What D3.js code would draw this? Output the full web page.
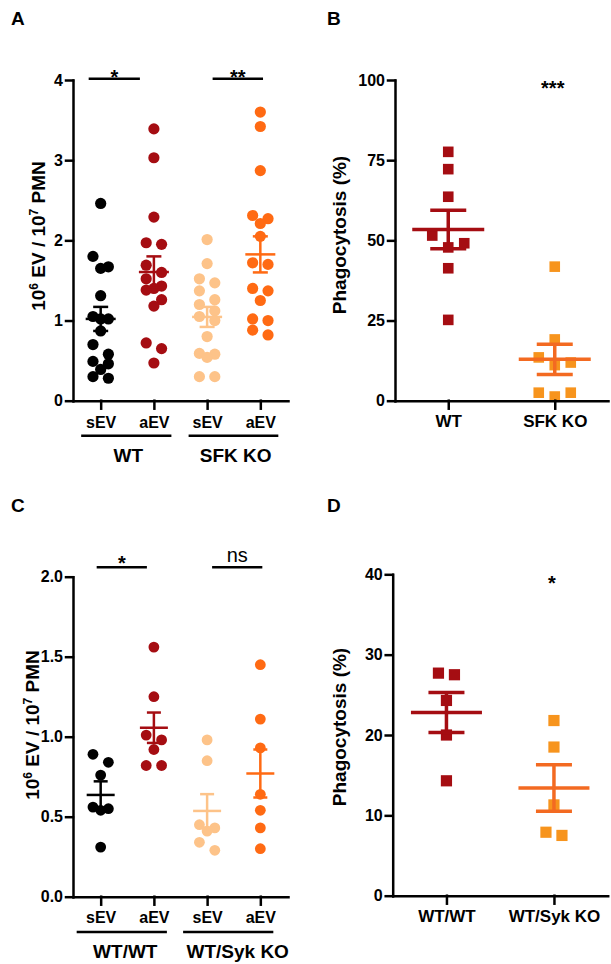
<!DOCTYPE html>
<html><head><meta charset="utf-8">
<script src="https://cdn.jsdelivr.net/npm/d3@7"></script>
<style>
body{margin:0;background:#fff}
svg text{font-family:"Liberation Sans",Arial,Helvetica,sans-serif;font-weight:bold;fill:#000}
</style>
</head><body>
<svg id="c" width="611" height="964"></svg>
<script>
// ---------- DATA ----------
// Panel A
const aCats = ["sEV", "aEV", "sEV", "aEV"];
const aGroups = ["WT", "SFK KO"];
const aTicks = [0, 1, 2, 3, 4];
const aWT_sEV = [2.46, 1.80, 1.67, 1.65, 1.31, 1.05, 1.02, 1.02, 0.87, 0.70, 0.58, 0.49, 0.46, 0.39, 0.30, 0.28];
const aWT_aEV = [3.39, 3.03, 2.29, 1.97, 1.95, 1.69, 1.60, 1.52, 1.43, 1.40, 1.38, 1.26, 1.18, 0.72, 0.65, 0.47];
const aKO_sEV = [2.01, 1.71, 1.52, 1.47, 1.37, 1.26, 1.20, 1.12, 1.05, 1.00, 0.80, 0.59, 0.58, 0.54, 0.30, 0.30];
const aKO_aEV = [3.60, 3.42, 2.87, 2.31, 2.27, 2.21, 2.05, 1.72, 1.70, 1.40, 1.37, 1.25, 1.02, 1.00, 0.88, 0.82];
const aMeans = [1.02, 1.605, 1.045, 1.825];
const aSems = [0.15, 0.195, 0.125, 0.225];
const aSig = ["*", "**"];
// Panel B
const bCats = ["WT", "SFK KO"];
const bTicks = [0, 25, 50, 75, 100];
const bWT = [77.6, 72.2, 63.6, 51.5, 49.1, 47.8, 41.3, 25.2];
const bKO = [41.8, 19.1, 13.5, 11.9, 11.1, 2.5, 2.5, 1.3];
const bMeans = [53.4, 12.9];
const bSems = [6.0, 4.7];
const bSig = "***";
// Panel C
const cCats = ["sEV", "aEV", "sEV", "aEV"];
const cGroups = ["WT/WT", "WT/Syk KO"];
const cTicks = [0, 0.5, 1.0, 1.5, 2.0];
const cWT_sEV = [0.89, 0.84, 0.76, 0.56, 0.55, 0.54, 0.31];
const cWT_aEV = [1.56, 1.25, 1.01, 0.98, 0.92, 0.82, 0.82];
const cKO_sEV = [0.98, 0.85, 0.45, 0.43, 0.41, 0.34, 0.29];
const cKO_aEV = [1.45, 1.11, 0.93, 0.64, 0.54, 0.43, 0.30];
const cMeans = [0.636, 1.056, 0.536, 0.77];
const cSems = [0.085, 0.095, 0.105, 0.15];
const cSig = ["*", "ns"];
// Panel D
const dCats = ["WT/WT", "WT/Syk KO"];
const dTicks = [0, 10, 20, 30, 40];
const dWT = [27.7, 27.5, 24.3, 20.0, 14.3];
const dKO = [21.8, 18.5, 11.3, 7.9, 7.5];
const dMeans = [22.8, 13.4];
const dSems = [2.5, 2.9];
const dSig = "*";

// ---------- COLOURS ----------
const BLACK = "#000000", DARKRED = "#A50D12", LIGHTOR = "#FDC389", ORANGE = "#FF6A13";
const SQOR = "#F7941D", BAROR = "#F36A21";

const svg = d3.select("#c");
svg.append("rect").attr("width", 611).attr("height", 964).attr("fill", "#fff");

function swarmOffsets(vals, y, s, bin) {
  const idx = vals.map((v, i) => i).sort((a, b) => vals[b] - vals[a]);
  const off = new Array(vals.length).fill(0);
  let row = [];
  const flush = () => {
    const k = row.length;
    const pat = k === 1 ? [0] : k === 2 ? [-s, s] : [-s, s, 0, -2 * s, 2 * s, -3 * s, 3 * s];
    row.forEach((i, j) => off[i] = pat[j] || 0);
    row = [];
  };
  idx.forEach(i => {
    if (row.length && y(vals[i]) - y(vals[row[0]]) > bin) flush();
    row.push(i);
  });
  if (row.length) flush();
  return off;
}

function panel(cfg) {
  const g = svg.append("g");
  const x = d3.scalePoint().domain(d3.range(cfg.labels.length)).range(cfg.xr).padding(cfg.pad);
  const y = d3.scaleLinear().domain(cfg.yd).range(cfg.yr);
  cfg.series.forEach((s, i) => {
    const off = swarmOffsets(s.values, y, cfg.step, cfg.bin);
    const gg = g.append("g");
    if (cfg.shape === "circle") {
      gg.selectAll("circle").data(s.values).join("circle")
        .attr("cx", (v, j) => x(i) + off[j]).attr("cy", v => y(v))
        .attr("r", cfg.size).attr("fill", s.color);
    } else {
      gg.selectAll("rect").data(s.values).join("rect")
        .attr("x", (v, j) => x(i) + off[j] - cfg.size).attr("y", v => y(v) - cfg.size)
        .attr("width", cfg.size * 2).attr("height", cfg.size * 2).attr("fill", s.color);
    }
  });
  cfg.series.forEach((s, i) => {
    const cx = x(i), m = s.mean, e = s.sem;
    const segs = [
      [cx - cfg.mh, y(m), cx + cfg.mh, y(m)],
      [cx, y(m + e), cx, y(m - e)],
      [cx - cfg.ch, y(m + e), cx + cfg.ch, y(m + e)],
      [cx - cfg.ch, y(m - e), cx + cfg.ch, y(m - e)]
    ];
    g.append("g").selectAll("line").data(segs).join("line")
      .attr("x1", d => d[0]).attr("y1", d => d[1]).attr("x2", d => d[2]).attr("y2", d => d[3])
      .attr("stroke", s.bar).attr("stroke-width", cfg.bw);
  });
  const ya = g.append("g").attr("transform", `translate(${cfg.xr[0]},0)`)
    .call(d3.axisLeft(y).tickValues(cfg.ticks).tickFormat(cfg.fmt).tickSize(7).tickPadding(3).tickSizeOuter(0));
  const xa = g.append("g").attr("transform", `translate(0,${cfg.yr[0]})`)
    .call(d3.axisBottom(x).tickFormat(i => cfg.labels[i]).tickSize(8).tickPadding(cfg.xpad).tickSizeOuter(0));
  [ya, xa].forEach(a => {
    a.attr("font-family", null).attr("font-size", null);
    a.selectAll("path,line").attr("stroke", "#000").attr("stroke-width", 2.5).attr("stroke-linecap", "square");
  });
  ya.selectAll("text").style("font-size", "16px");
  xa.selectAll("text").style("font-size", cfg.xfs + "px");
  // y title
  const t = g.append("text").attr("transform", `translate(${cfg.tx},${cfg.ty}) rotate(-90)`)
    .attr("text-anchor", "middle").style("font-size", "19px");
  cfg.title(t);
  return { g, x, y };
}

function sigBar(g, x1, x2, yy, label, fs, weight, dy) {
  g.append("line").attr("x1", x1).attr("x2", x2).attr("y1", yy).attr("y2", yy)
    .attr("stroke", "#000").attr("stroke-width", 2.5);
  g.append("text").attr("x", (x1 + x2) / 2).attr("y", yy + dy).attr("text-anchor", "middle")
    .style("font-size", fs + "px").style("font-weight", weight).text(label);
}
function groupLine(g, x1, x2, yy, lx, ly, label) {
  g.append("line").attr("x1", x1).attr("x2", x2).attr("y1", yy).attr("y2", yy)
    .attr("stroke", "#000").attr("stroke-width", 2.5);
  g.append("text").attr("x", lx).attr("y", ly).attr("text-anchor", "middle")
    .style("font-size", "19px").text(label);
}
function letter(xx, yy, l) {
  svg.append("text").attr("x", xx).attr("y", yy).style("font-size", "19px").text(l);
}
const evTitle = t => {
  t.append("tspan").text("10");
  t.append("tspan").attr("dy", -7).style("font-size", "12px").text("6");
  t.append("tspan").attr("dy", 7).text(" EV / 10");
  t.append("tspan").attr("dy", -7).style("font-size", "12px").text("7");
  t.append("tspan").attr("dy", 7).text(" PMN");
};
const phTitle = t => t.text("Phagocytosis (%)");

// ---------- PANEL A ----------
const A = panel({
  labels: aCats, xr: [73, 288], pad: 0.52, yd: [0, 4], yr: [400.7, 80], ticks: aTicks, fmt: d3.format("d"),
  shape: "circle", size: 5.6, step: 7.7, bin: 11, mh: 15, ch: 7.5, bw: 2.5, xpad: 8, xfs: 16,
  tx: 45, ty: 236, title: evTitle,
  series: [
    { values: aWT_sEV, color: BLACK, bar: BLACK, mean: aMeans[0], sem: aSems[0] },
    { values: aWT_aEV, color: DARKRED, bar: DARKRED, mean: aMeans[1], sem: aSems[1] },
    { values: aKO_sEV, color: LIGHTOR, bar: LIGHTOR, mean: aMeans[2], sem: aSems[2] },
    { values: aKO_aEV, color: ORANGE, bar: ORANGE, mean: aMeans[3], sem: aSems[3] }
  ]
});
sigBar(A.g, A.x(0) - 12, A.x(1) - 14, 78.7, aSig[0], 20, "bold", 5);
sigBar(A.g, A.x(2) + 5.5, A.x(3) + 2.7, 78.7, aSig[1], 20, "bold", 5);
groupLine(A.g, A.x(0) - 19.5, A.x(1) + 17.5, 435.7, (A.x(0) + A.x(1)) / 2 + 1, 462, aGroups[0]);
groupLine(A.g, A.x(2) - 18.5, A.x(3) + 18, 435.7, (A.x(2) + A.x(3)) / 2 + 2, 462, aGroups[1]);
letter(11, 25, "A");

// ---------- PANEL B ----------
const B = panel({
  labels: bCats, xr: [395, 608], pad: 0.5, yd: [0, 100], yr: [400.7, 80], ticks: bTicks, fmt: d3.format("d"),
  shape: "square", size: 5.3, step: 16, bin: 12, mh: 36, ch: 18, bw: 3.5, xpad: 6, xfs: 17,
  tx: 346, ty: 235, title: phTitle,
  series: [
    { values: bWT, color: DARKRED, bar: DARKRED, mean: bMeans[0], sem: bSems[0] },
    { values: bKO, color: SQOR, bar: BAROR, mean: bMeans[1], sem: bSems[1] }
  ]
});
B.g.append("text").attr("x", B.x(1) - 2).attr("y", 95).attr("text-anchor", "middle")
  .style("font-size", "20px").text(bSig);
letter(327, 25, "B");

// ---------- PANEL C ----------
const C = panel({
  labels: cCats, xr: [73, 288], pad: 0.52, yd: [0, 2], yr: [896.7, 576.7], ticks: cTicks, fmt: d3.format(".1f"),
  shape: "circle", size: 5.4, step: 7.7, bin: 11, mh: 14, ch: 7, bw: 2.5, xpad: 7, xfs: 16,
  tx: 39, ty: 725, title: evTitle,
  series: [
    { values: cWT_sEV, color: BLACK, bar: BLACK, mean: cMeans[0], sem: cSems[0] },
    { values: cWT_aEV, color: DARKRED, bar: DARKRED, mean: cMeans[1], sem: cSems[1] },
    { values: cKO_sEV, color: LIGHTOR, bar: LIGHTOR, mean: cMeans[2], sem: cSems[2] },
    { values: cKO_aEV, color: ORANGE, bar: ORANGE, mean: cMeans[3], sem: cSems[3] }
  ]
});
sigBar(C.g, C.x(0) - 4, C.x(1) - 7, 567.3, cSig[0], 20, "bold", 3);
sigBar(C.g, C.x(2) + 5, C.x(3) + 2, 567.3, cSig[1], 20, "normal", -5);
groupLine(C.g, C.x(0) - 24, C.x(1) + 13, 932, (C.x(0) + C.x(1)) / 2 - 2, 958, cGroups[0]);
groupLine(C.g, C.x(2) - 24, C.x(3) + 13, 932, (C.x(2) + C.x(3)) / 2 + 4, 958, cGroups[1]);
letter(11, 512, "C");

// ---------- PANEL D ----------
const D = panel({
  labels: dCats, xr: [392.7, 607.7], pad: 0.5, yd: [0, 40], yr: [895.7, 574.3], ticks: dTicks, fmt: d3.format("d"),
  shape: "square", size: 5.6, step: 8, bin: 12, mh: 35.5, ch: 18, bw: 3.5, xpad: 6, xfs: 17,
  tx: 346, ty: 727, title: phTitle,
  series: [
    { values: dWT, color: DARKRED, bar: DARKRED, mean: dMeans[0], sem: dSems[0] },
    { values: dKO, color: SQOR, bar: BAROR, mean: dMeans[1], sem: dSems[1] }
  ]
});
D.g.append("text").attr("x", D.x(1) - 2).attr("y", 590).attr("text-anchor", "middle")
  .style("font-size", "20px").text(dSig);
letter(327, 512, "D");
</script>
</body></html>
